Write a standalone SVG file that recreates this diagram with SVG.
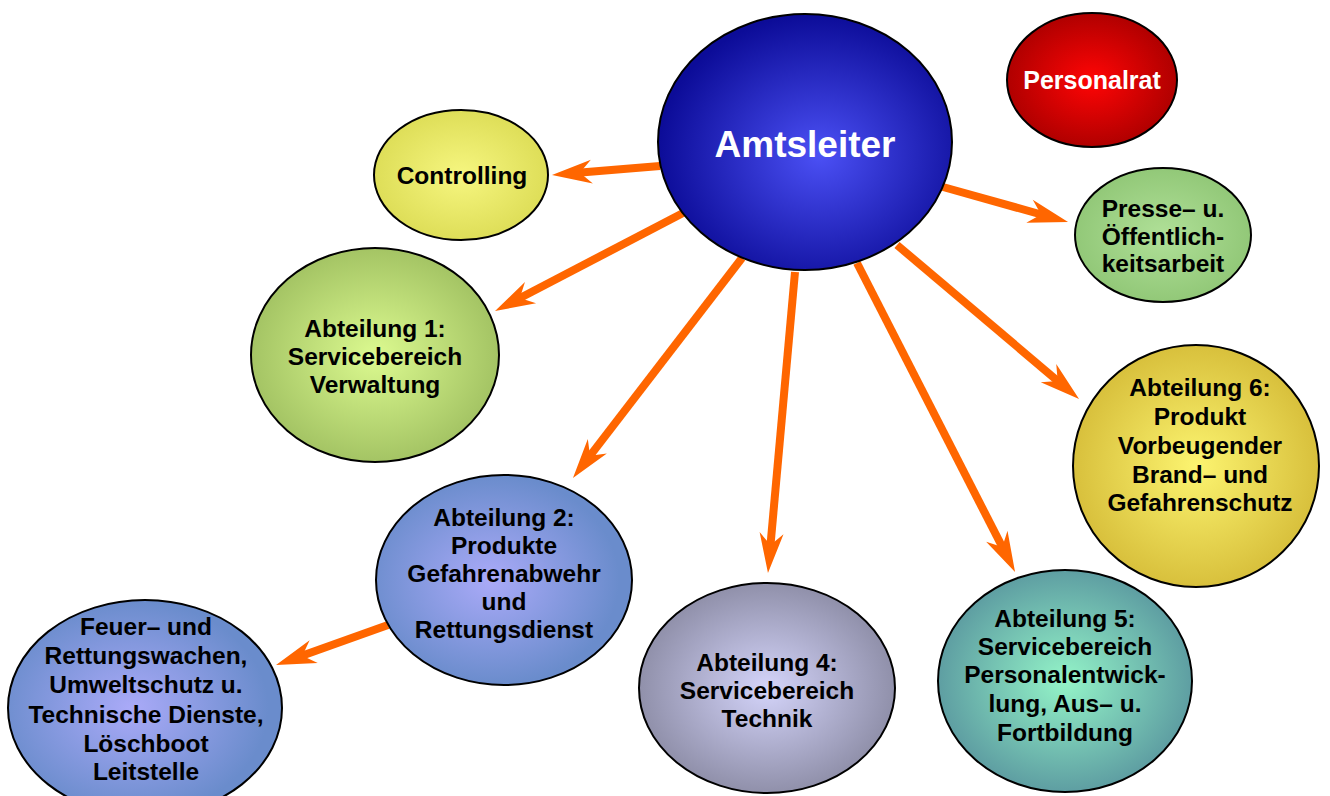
<svg xmlns="http://www.w3.org/2000/svg" width="1330" height="796" viewBox="0 0 1330 796">
<defs>
<style>
.n{stroke:#000;stroke-width:2}
.t{font-family:"Liberation Sans",Arial,sans-serif;font-weight:bold;font-size:24.5px;fill:#000;text-anchor:middle}
.w{font-family:"Liberation Sans",Arial,sans-serif;font-weight:bold;fill:#fff;text-anchor:middle}
.c line{stroke:#ff6600;stroke-width:8;marker-end:url(#ah)}
</style>
<marker id="ah" markerUnits="userSpaceOnUse" viewBox="-16 -14 44 28" refX="0" refY="0" markerWidth="44" markerHeight="28" orient="auto" overflow="visible">
<path d="M26,0 L-14,-12 L-2,0 L-14,12 Z" fill="#ff6600"/>
</marker>
<radialGradient id="gBlue" cx="0.55" cy="0.55" r="0.55"><stop offset="0" stop-color="#4b50f5"/><stop offset="1" stop-color="#0c0c98"/></radialGradient>
<radialGradient id="gRed" cx="0.5" cy="0.5" r="0.5"><stop offset="0" stop-color="#ff0505"/><stop offset="1" stop-color="#b00000"/></radialGradient>
<radialGradient id="gYel" cx="0.5" cy="0.5" r="0.5"><stop offset="0" stop-color="#f6f680"/><stop offset="1" stop-color="#dede58"/></radialGradient>
<radialGradient id="gLG" cx="0.5" cy="0.5" r="0.5"><stop offset="0" stop-color="#b0e098"/><stop offset="1" stop-color="#92c878"/></radialGradient>
<radialGradient id="gG1" cx="0.5" cy="0.5" r="0.5"><stop offset="0" stop-color="#dcfa90"/><stop offset="1" stop-color="#a4c464"/></radialGradient>
<radialGradient id="gGold" cx="0.5" cy="0.5" r="0.5"><stop offset="0" stop-color="#fcf470"/><stop offset="1" stop-color="#d8c03c"/></radialGradient>
<radialGradient id="gPB" cx="0.45" cy="0.5" r="0.5"><stop offset="0" stop-color="#aaaaf8"/><stop offset="1" stop-color="#6a8ccc"/></radialGradient>
<radialGradient id="gGray" cx="0.5" cy="0.5" r="0.5"><stop offset="0" stop-color="#d4d4fa"/><stop offset="1" stop-color="#9090aa"/></radialGradient>
<radialGradient id="gTeal" cx="0.5" cy="0.5" r="0.5"><stop offset="0" stop-color="#94f4c8"/><stop offset="1" stop-color="#5e9ea2"/></radialGradient>
</defs>
<rect width="1330" height="796" fill="#fff"/>
<g id="connectors" class="c">
<line x1="660" y1="166" x2="577.9" y2="172.8"/>
<line x1="683" y1="213" x2="518.1" y2="299.0"/>
<line x1="742" y1="258" x2="588.8" y2="457.4"/>
<line x1="795" y1="272" x2="770.3" y2="547.1"/>
<line x1="857" y1="263" x2="1003.2" y2="548.8"/>
<line x1="897" y1="245" x2="1059.2" y2="382.2"/>
<line x1="943" y1="187" x2="1043" y2="215"/>
<line x1="388" y1="625" x2="300.5" y2="656.3"/>
</g>
<g id="amtsleiter"><ellipse class="n" cx="805" cy="142" rx="147" ry="128" fill="url(#gBlue)"/><text class="w" x="805" y="157" font-size="37">Amtsleiter</text></g>
<g id="personalrat"><ellipse class="n" cx="1092" cy="80" rx="85" ry="67" fill="url(#gRed)"/><text class="w" x="1092" y="89" font-size="25">Personalrat</text></g>
<g id="controlling"><ellipse class="n" cx="461" cy="175" rx="87" ry="65" fill="url(#gYel)"/><text class="t" x="462" y="184">Controlling</text></g>
<g id="presse"><ellipse class="n" cx="1163" cy="235" rx="88" ry="67" fill="url(#gLG)"/><text class="t" x="1163" y="217">Presse– u.</text><text class="t" x="1163" y="245">Öffentlich-</text><text class="t" x="1163" y="272">keitsarbeit</text></g>
<g id="abt1"><ellipse class="n" cx="375" cy="355" rx="124" ry="107" fill="url(#gG1)"/><text class="t" x="375" y="337">Abteilung 1:</text><text class="t" x="375" y="365">Servicebereich</text><text class="t" x="375" y="393">Verwaltung</text></g>
<g id="abt6"><ellipse class="n" cx="1196" cy="466" rx="123" ry="121" fill="url(#gGold)"/><text class="t" x="1200" y="396">Abteilung 6:</text><text class="t" x="1200" y="425">Produkt</text><text class="t" x="1200" y="454">Vorbeugender</text><text class="t" x="1200" y="483">Brand– und</text><text class="t" x="1200" y="511">Gefahrenschutz</text></g>
<g id="abt2"><ellipse class="n" cx="504" cy="580" rx="128" ry="105" fill="url(#gPB)"/><text class="t" x="504" y="526">Abteilung 2:</text><text class="t" x="504" y="554">Produkte</text><text class="t" x="504" y="582">Gefahrenabwehr</text><text class="t" x="504" y="610">und</text><text class="t" x="504" y="638">Rettungsdienst</text></g>
<g id="feuer"><ellipse class="n" cx="145" cy="708" rx="137" ry="108" fill="url(#gPB)"/><text class="t" x="146" y="635">Feuer– und</text><text class="t" x="146" y="664">Rettungswachen,</text><text class="t" x="146" y="693">Umweltschutz u.</text><text class="t" x="146" y="723">Technische Dienste,</text><text class="t" x="146" y="752">Löschboot</text><text class="t" x="146" y="780">Leitstelle</text></g>
<g id="abt4"><ellipse class="n" cx="767" cy="688" rx="128" ry="105" fill="url(#gGray)"/><text class="t" x="767" y="671">Abteilung 4:</text><text class="t" x="767" y="699">Servicebereich</text><text class="t" x="767" y="727">Technik</text></g>
<g id="abt5"><ellipse class="n" cx="1065" cy="681" rx="127" ry="111" fill="url(#gTeal)"/><text class="t" x="1065" y="627">Abteilung 5:</text><text class="t" x="1065" y="655">Servicebereich</text><text class="t" x="1065" y="683">Personalentwick-</text><text class="t" x="1065" y="712">lung, Aus– u.</text><text class="t" x="1065" y="741">Fortbildung</text></g>
</svg>
